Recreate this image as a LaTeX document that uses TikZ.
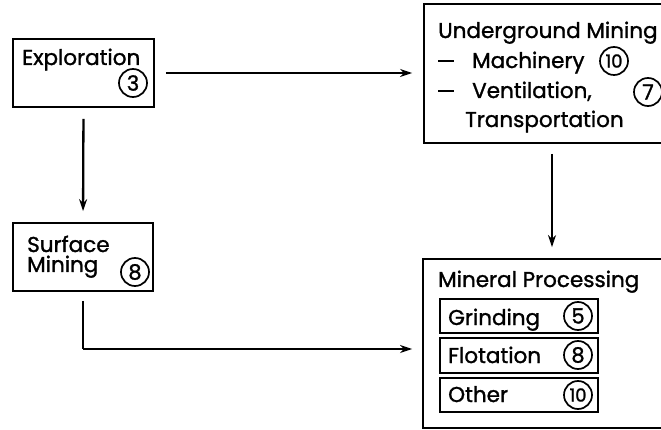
\documentclass[tikz,border=0pt]{standalone}
\usepackage{fontspec}
\newfontfamily\lf[FakeBold=1.3]{Poppins}
\usetikzlibrary{arrows.meta}
\tikzset{
  box/.style={draw, line width=1.8pt, rectangle, inner sep=0pt},
  lbl/.style={anchor=base west, inner sep=0pt, font=\lf\fontsize{21.5}{22}\selectfont},
  num/.style={draw, circle, line width=1.7pt, inner sep=0pt, minimum size=28pt, font=\lf\fontsize{21}{21}\selectfont},
  numx/.style={num, font=\lf\fontsize{18}{18}\selectfont},
  arr/.style={line width=2.3pt, -{Stealth[length=12pt,width=8pt]}},
}
\newcommand{\mydash}{\raisebox{6pt}{\rule{16pt}{1.9pt}}}
\begin{document}
\begin{tikzpicture}[x=1pt,y=-1pt]
\useasboundingbox (0,0) rectangle (661,430);
\begin{scope}
\clip (0,0) rectangle (661,430);
% boxes
\node[box, minimum width=141pt, minimum height=68pt] (expl) at (83.5,73) {};
\node[box, minimum width=250pt, minimum height=139pt] (under) at (549,73.5) {};
\node[box, minimum width=140pt, minimum height=68pt] (surf) at (83,257) {};
\node[box, minimum width=250pt, minimum height=169pt] (mine) at (548,343.5) {};
\node[box, minimum width=158pt, minimum height=34pt] (grind) at (519,316) {};
\node[box, minimum width=158pt, minimum height=35pt] (flot) at (519,355.5) {};
\node[box, minimum width=158pt, minimum height=34pt] (other) at (519,395) {};
% texts
\node[lbl] (t1) at (22,65) {Exploration};
\node[num] (n3) at (133,83) {3};
\node[lbl] (t2) at (438,38) {Underground Mining};
\node[lbl] (t3) at (438,68) {\mydash};
\node[lbl] (t4) at (472,68) {Machinery};
\node[numx] (n10a) at (614,61) {10};
\node[lbl] (t5) at (438,98) {\mydash};
\node[lbl] (t6) at (472,98) {Ventilation,};
\node[num] (n7) at (648,92) {7};
\node[lbl] (t7) at (465,127) {Transportation};
\node[lbl] (t8) at (27,252) {Surface};
\node[lbl] (t9) at (27,272) {Mining};
\node[num] (n8a) at (135,272) {8};
\node[lbl] (t10) at (438,287) {Mineral Processing};
\node[lbl] (t11) at (448,325) {Grinding};
\node[num] (n5) at (578,316) {5};
\node[lbl] (t12) at (448,363) {Flotation};
\node[num] (n8b) at (578,355) {8};
\node[lbl] (t13) at (448,402) {Other};
\node[numx] (n10b) at (578,395) {10};
% connectors
\coordinate (ux) at (552,0);
\coordinate (corner) at (83,349);
\draw[arr, shorten <=11pt, shorten >=11pt] (expl.east) -- (under.west |- expl.east);
\draw[arr, shorten <=11pt, shorten >=11pt] (expl.south) -- (surf.north);
\draw[arr, shorten <=10pt, shorten >=11pt] (ux |- under.south) -- (ux |- mine.north);
\draw[line width=2.3pt, shorten <=9pt] (surf.south) -- (corner);
\draw[arr, shorten >=10pt] (corner) -- (corner -| mine.west);
\end{scope}
\end{tikzpicture}
\end{document}
